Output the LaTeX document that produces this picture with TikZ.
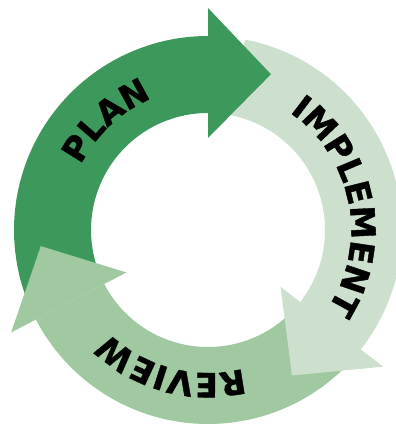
\documentclass[tikz,border=0pt]{standalone}
\usepackage{fontspec}
\usetikzlibrary{decorations.text}
\newfontfamily\cyclefont{DejaVu Sans Bold}[FakeBold=1.2,LetterSpace=3]
\definecolor{plangreen}{RGB}{61,153,91}
\definecolor{implgreen}{RGB}{204,224,205}
\definecolor{revgreen}{RGB}{160,200,161}

\begin{document}
\begin{tikzpicture}[x=0.02cm,y=0.02cm,
    cyclelabel/.style={decorate,decoration={text along path,text align=center,
        text={|\cyclefont\fontsize{19}{19}\selectfont|#1}}}]
    \useasboundingbox (-208,-198) rectangle (187,230);
    \coordinate (c) at (0,0);
    % bands of the ring
    \fill[implgreen] (79:194) arc[start angle=79,end angle=-38,radius=194]
        -- (-38:117) arc[start angle=-38,end angle=79,radius=117] -- cycle;
    \fill[revgreen] (207.5:194) arc[start angle=207.5,end angle=315,radius=194]
        -- (315:117) arc[start angle=315,end angle=207.5,radius=117] -- cycle;
    \fill[plangreen] (90:194) arc[start angle=90,end angle=205,radius=194]
        -- (205:117) arc[start angle=205,end angle=90,radius=117] -- cycle;
    % arrow heads
    \foreach \a/\col [evaluate=\a as \t using \a-22] in {90/plangreen,-38/implgreen,207.5/revgreen}
        \fill[\col] (\a:92) -- (\a:222) -- (\t:168) -- cycle;
    % labels
    \path[cyclelabel=PLAN] (193:143) arc[start angle=193,end angle=73,radius=143];
    \path[cyclelabel=IMPLEMENT] (71:143) arc[start angle=71,end angle=-49,radius=143];
    \path[cyclelabel=REVIEW] (315:143) arc[start angle=315,end angle=195,radius=143];
\end{tikzpicture}
\end{document}
